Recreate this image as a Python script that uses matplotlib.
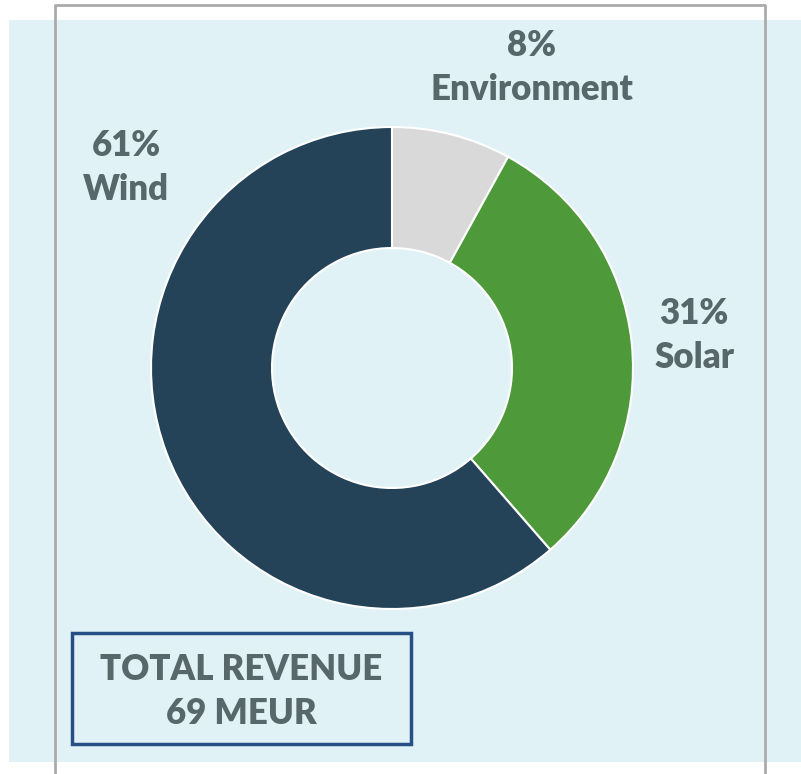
import matplotlib.pyplot as plt
from matplotlib.patches import Rectangle

segments = ["Environment", "Solar", "Wind"]
shares = [8.0, 30.6, 61.4]
colors = ["#D9D9D9", "#4E9A3A", "#244258"]
total_revenue = 69  # MEUR

W, H = 801, 774
fig = plt.figure(figsize=(W / 100, H / 100), dpi=100)
ax = fig.add_axes([0, 0, 1, 1])

def fy(y):
    # pixel row (from top) -> data y
    return H - y

# light blue panel and grey frame
ax.add_patch(Rectangle((9, fy(762)), W - 9, 742, facecolor="#E1F2F7", edgecolor="none", zorder=0))
ax.plot([55, 55, 765, 765], [0, fy(5), fy(5), 0], color="#ABABAB", lw=2, zorder=1)

ax.pie(shares, colors=colors, startangle=90, counterclock=False,
       center=(392, fy(368)), radius=241,
       wedgeprops=dict(width=121, edgecolor="white", linewidth=1.5))

txt = "#57676A"
font = dict(family="Lato", weight="heavy", fontsize=25, color=txt, ha="center", va="center")
label_pos = {"Environment": (532, 46), "Solar": (694, 313), "Wind": (126, 146)}
for name, share in zip(segments, shares):
    x, y = label_pos[name]
    ax.text(x, fy(y), f"{round(share)}%", **font)
    ax.text(x, fy(y + 44), name, **font)

# total box
ax.add_patch(Rectangle((72, fy(744)), 339, 111, facecolor="none", edgecolor="#254F85", lw=2.5, zorder=3))
ax.text(241, fy(669), "TOTAL REVENUE", **font)
ax.text(241, fy(713), f"{total_revenue} MEUR", **font)

ax.set_xlim(0, W)
ax.set_ylim(0, H)
ax.set_aspect("auto")
ax.axis("off")

plt.savefig("out.png", dpi=100)
